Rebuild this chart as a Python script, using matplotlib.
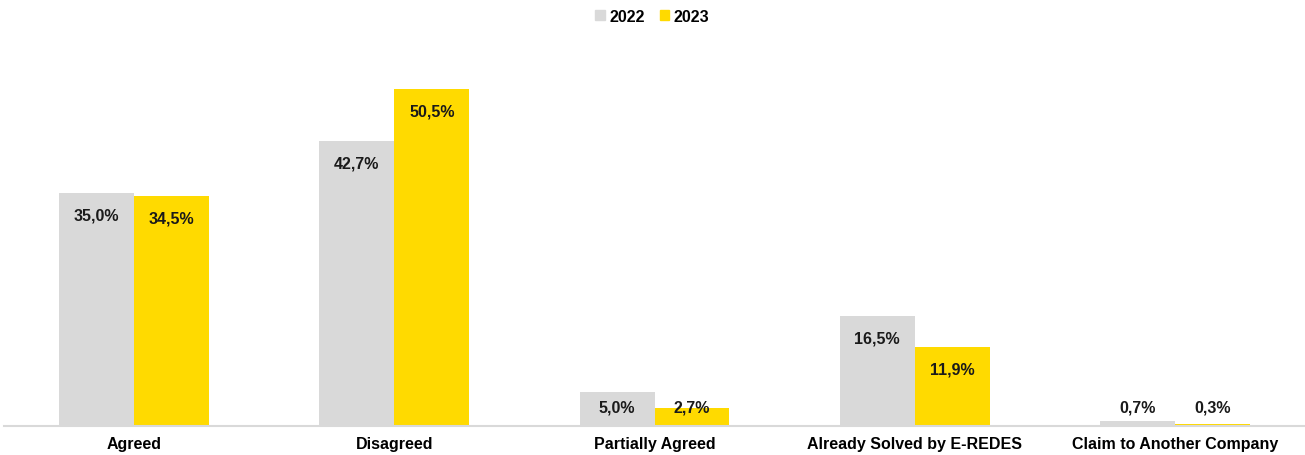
import matplotlib.pyplot as plt
import numpy as np
from matplotlib.patches import Patch

plt.rcParams['font.family'] = ['Liberation Sans', 'DejaVu Sans']

categories = ['Agreed', 'Disagreed', 'Partially Agreed',
              'Already Solved by E-REDES', 'Claim to Another Company']
years = ['2022', '2023']
vals_2022 = [35.0, 42.7, 5.0, 16.5, 0.7]
vals_2023 = [34.5, 50.5, 2.7, 11.9, 0.3]

grey = '#D9D9D9'
gold = '#FFDA00'

fig = plt.figure(figsize=(13.05, 4.56), dpi=100)
ax = fig.add_axes([0.0031, 0.064, 0.9969, 0.849])

x = np.arange(len(categories))
w = 0.288

b1 = ax.bar(x - w / 2, vals_2022, w, color=grey, zorder=2)
b2 = ax.bar(x + w / 2, vals_2023, w, color=gold, zorder=2)

# labels sit just inside the bar top, but never lower than a floor near the axis
for bars, vals in ((b1, vals_2022), (b2, vals_2023)):
    for rect, v in zip(bars, vals):
        y = max(v - 3.3, 2.85)
        ax.text(rect.get_x() + rect.get_width() / 2, y,
                f'{v:.1f}%'.replace('.', ','), ha='center', va='center',
                fontsize=11.5, fontweight='bold', color='#1a1a1a', zorder=3)

ax.set_xlim(-0.5, len(categories) - 0.5)
ax.set_ylim(0, 58.1)
ax.set_xticks(x)
ax.set_xticklabels(categories, fontsize=11.5, fontweight='bold')
ax.tick_params(axis='x', length=0, pad=7)
ax.set_yticks([])
for s in ['top', 'right', 'left']:
    ax.spines[s].set_visible(False)
ax.spines['bottom'].set_color('#D9D9D9')
ax.spines['bottom'].set_linewidth(1.5)

handles = [Patch(color=grey), Patch(color=gold)]
fig.legend(handles, years, loc='upper center', bbox_to_anchor=(0.5, 1.01),
           ncol=2, frameon=False, handlelength=0.6, handleheight=0.6,
           handletextpad=0.3, columnspacing=0.9,
           prop={'weight': 'bold', 'size': 11.5})

fig.savefig('out.png', dpi=100)
